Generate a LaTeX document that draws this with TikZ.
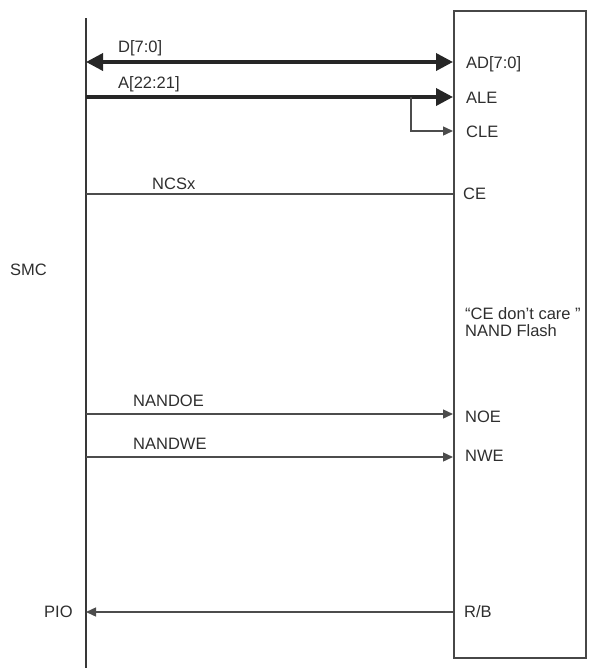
\documentclass[tikz,border=0pt]{standalone}
\usepackage{fontspec}
\setmainfont{Liberation Sans}
\usetikzlibrary{arrows.meta}
\begin{document}
\begin{tikzpicture}[x=1pt,y=-1pt,
  lbl/.style={anchor=base west,inner sep=0pt,font=\fontsize{16.5}{19}\selectfont,text=black!82},
  bus/.style={line width=3.6pt,black!85},
  sig/.style={line width=1.4pt,black!70},
  bigtip/.style={-{Triangle[length=17pt,width=17pt]}},
  smalltip/.style={-{Triangle[length=10pt,width=9pt]}}]
\useasboundingbox (0,0) rectangle (593,670);
% box
\node[draw=black!72,line width=2pt,minimum width=132pt,minimum height=647pt,anchor=north west,inner sep=0pt] (flash) at (453,10) {};
% SMC line
\coordinate (smctop) at (86,18);
\coordinate (smcbot) at (86,668);
\draw[line width=2.4pt,black!78] (smctop) -- (smcbot);
% coordinates
\coordinate (dL) at (86,62);   \coordinate (dR) at (453,62);
\coordinate (aL) at (86,97);   \coordinate (aR) at (453,97);
\coordinate (br) at (411,97);  \coordinate (brd) at (411,131); \coordinate (cle) at (453,131);
\coordinate (cL) at (86,194);  \coordinate (cR) at (453,194);
\coordinate (oL) at (86,414);  \coordinate (oR) at (453,414);
\coordinate (wL) at (86,457);  \coordinate (wR) at (453,457);
\coordinate (rL) at (86,612);  \coordinate (rR) at (453,612);
% connectors
\draw[bus,{Triangle[length=17pt,width=17pt]}-{Triangle[length=17pt,width=17pt]}] (dL) -- (dR);
\draw[bus,bigtip] (aL) -- (aR);
\draw[sig,smalltip] (br) -- (brd) -- (cle);
\draw[sig] (cL) -- (cR);
\draw[sig,smalltip] (oL) -- (oR);
\draw[sig,smalltip] (wL) -- (wR);
\draw[sig,smalltip] (rR) -- (rL);
% labels on lines (baseline = cap centre + 5.9)
\node[lbl] (tD) at (118,52.4) {D[7:0]};
\node[lbl] (tA) at (118,88) {A[22:21]};
\node[lbl] (tN) at (152,189.4) {NCSx};
\node[lbl] (tOE) at (133,406.4) {NANDOE};
\node[lbl] (tWE) at (133,449) {NANDWE};
\node[lbl] (tSMC) at (10,275.4) {SMC};
\node[lbl] (tPIO) at (44,617) {PIO};
% flash pins
\node[lbl] (pAD) at (466,68.4) {AD[7:0]};
\node[lbl] (pALE) at (466,103.4) {ALE};
\node[lbl] (pCLE) at (466,137.9) {CLE};
\node[lbl] (pCE) at (463,199.4) {CE};
\node[lbl] (pCD) at (465,319.9) {\char"201C CE don\char"2019 t care \char"201D};
\node[lbl] (pNF) at (465,336.9) {NAND Flash};
\node[lbl] (pNOE) at (465,422.9) {NOE};
\node[lbl] (pNWE) at (465,461.4) {NWE};
\node[lbl] (pRB) at (464,617) {R/B};
\end{tikzpicture}
\end{document}
